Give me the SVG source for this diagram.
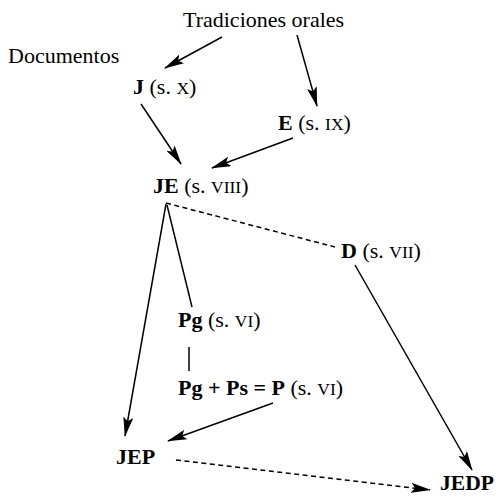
<svg xmlns="http://www.w3.org/2000/svg" width="498" height="496" viewBox="0 0 498 496">
<defs>
<style>
text{font-family:"Liberation Serif","Times New Roman",serif;font-size:22px;fill:#000}
.b{font-weight:bold}
.sc{font-size:17.5px}
.ln{stroke:#000;stroke-width:1.5;fill:none}
.dash{stroke-dasharray:5,3.5}
</style>
<marker id="ah" viewBox="0 0 20 10" refX="19" refY="5" markerWidth="20" markerHeight="10" markerUnits="userSpaceOnUse" orient="auto">
<path d="M0,0 L20,5 L0,10 L4,5 z" fill="#000"/>
</marker>
</defs>
<rect width="498" height="496" fill="#fff"/>
<g id="connectors">
<line class="ln" x1="222" y1="37" x2="165" y2="68" marker-end="url(#ah)"/>
<line class="ln" x1="297" y1="35" x2="317" y2="106" marker-end="url(#ah)"/>
<line class="ln" x1="141" y1="104" x2="181" y2="164" marker-end="url(#ah)"/>
<line class="ln" x1="293" y1="138" x2="212" y2="168" marker-end="url(#ah)"/>
<line class="ln dash" x1="166" y1="203" x2="335" y2="247"/>
<line class="ln" x1="166" y1="204" x2="125" y2="436" marker-end="url(#ah)"/>
<line class="ln" x1="167" y1="205" x2="192" y2="307"/>
<line class="ln" x1="189" y1="347" x2="189" y2="371"/>
<line class="ln" x1="273" y1="403" x2="168" y2="441" marker-end="url(#ah)"/>
<line class="ln" x1="355" y1="265" x2="472" y2="470" marker-end="url(#ah)"/>
<line class="ln dash" x1="176" y1="460" x2="430" y2="490" marker-end="url(#ah)"/>
</g>
<g id="tradiciones"><text x="183" y="27">Tradiciones orales</text></g>
<g id="documentos"><text x="8" y="63">Documentos</text></g>
<g id="J"><text x="133" y="94"><tspan class="b">J</tspan> (s. <tspan class="sc">X</tspan>)</text></g>
<g id="E"><text x="278" y="130"><tspan class="b">E</tspan> (s. <tspan class="sc">IX</tspan>)</text></g>
<g id="JE"><text x="153" y="193"><tspan class="b">JE</tspan> (s. <tspan class="sc">VIII</tspan>)</text></g>
<g id="D"><text x="341" y="258"><tspan class="b">D</tspan> (s. <tspan class="sc">VII</tspan>)</text></g>
<g id="Pg"><text x="178" y="327"><tspan class="b">Pg</tspan> (s. <tspan class="sc">VI</tspan>)</text></g>
<g id="P"><text x="178" y="395"><tspan class="b">Pg + Ps = P</tspan> (s. <tspan class="sc">VI</tspan>)</text></g>
<g id="JEP"><text class="b" x="116" y="464">JEP</text></g>
<g id="JEDP"><text class="b" x="440" y="490" textLength="54" lengthAdjust="spacingAndGlyphs">JEDP</text></g>
</svg>
